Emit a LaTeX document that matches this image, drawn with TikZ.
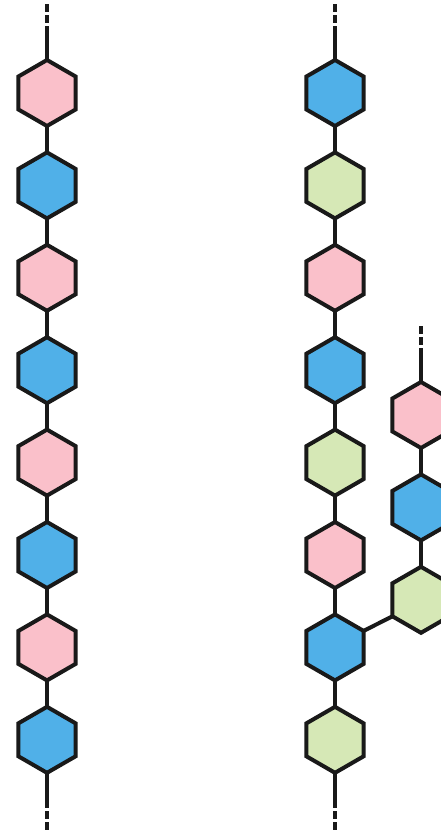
\documentclass[tikz,border=0pt]{standalone}
\usepackage{xcolor}
\usepackage{tikz}
\usetikzlibrary{shapes.geometric,positioning}

\definecolor{hexpink}{RGB}{250,192,202}
\definecolor{hexblue}{RGB}{80,176,232}
\definecolor{hexgreen}{RGB}{214,232,182}

\begin{document}
\begin{tikzpicture}[x=1pt, y=-1pt, node distance=26.4pt,
  unit/.style={regular polygon, regular polygon sides=6, shape border rotate=30, draw=black!90, line width=4pt, inner sep=0pt, outer sep=0pt, minimum size=66pt},
  pinkhex/.style={unit, fill=hexpink},
  bluehex/.style={unit, fill=hexblue},
  greenhex/.style={unit, fill=hexgreen},
  link/.style={line width=4pt, black!90},
  openend/.style={link, dash pattern=on 8pt off 3pt}]
\useasboundingbox (0,0) rectangle (441,834);

% left chain
\node[pinkhex] (l1) at (47,93) {};
\node[bluehex, below=of l1] (l2) {};
\node[pinkhex, below=of l2] (l3) {};
\node[bluehex, below=of l3] (l4) {};
\node[pinkhex, below=of l4] (l5) {};
\node[bluehex, below=of l5] (l6) {};
\node[pinkhex, below=of l6] (l7) {};
\node[bluehex, below=of l7] (l8) {};

% right chain
\node[bluehex] (r1) at (335,93) {};
\node[greenhex, below=of r1] (r2) {};
\node[pinkhex, below=of r2] (r3) {};
\node[bluehex, below=of r3] (r4) {};
\node[greenhex, below=of r4] (r5) {};
\node[pinkhex, below=of r5] (r6) {};
\node[bluehex, below=of r6] (r7) {};
\node[greenhex, below=of r7] (r8) {};

% branch
\node[pinkhex] (b1) at (421,415) {};
\node[bluehex, below=of b1] (b2) {};
\node[greenhex, below=of b2] (b3) {};

% open ends
\coordinate (ltop) at (47,4);
\coordinate (ltopj) at (47,34);
\coordinate (lbot) at (47,830);
\coordinate (lbotj) at (47,800);
\coordinate (rtop) at (335,4);
\coordinate (rtopj) at (335,34);
\coordinate (rbot) at (335,830);
\coordinate (rbotj) at (335,800);
\coordinate (btop) at (421,326);
\coordinate (btopj) at (421,356);

\draw[link] (l1) -- (l2) (l2) -- (l3) (l3) -- (l4) (l4) -- (l5) (l5) -- (l6) (l6) -- (l7) (l7) -- (l8);
\draw[link] (r1) -- (r2) (r2) -- (r3) (r3) -- (r4) (r4) -- (r5) (r5) -- (r6) (r6) -- (r7) (r7) -- (r8);
\draw[link] (b1) -- (b2) (b2) -- (b3);
\draw[link] (b3.corner 3) -- (r7.corner 6);

\draw[link] (l1) -- (ltopj);
\draw[openend] (ltopj) -- (ltop);
\draw[link] (l8) -- (lbotj);
\draw[openend] (lbotj) -- (lbot);
\draw[link] (r1) -- (rtopj);
\draw[openend] (rtopj) -- (rtop);
\draw[link] (r8) -- (rbotj);
\draw[openend] (rbotj) -- (rbot);
\draw[link] (b1) -- (btopj);
\draw[openend] (btopj) -- (btop);
\end{tikzpicture}
\end{document}
